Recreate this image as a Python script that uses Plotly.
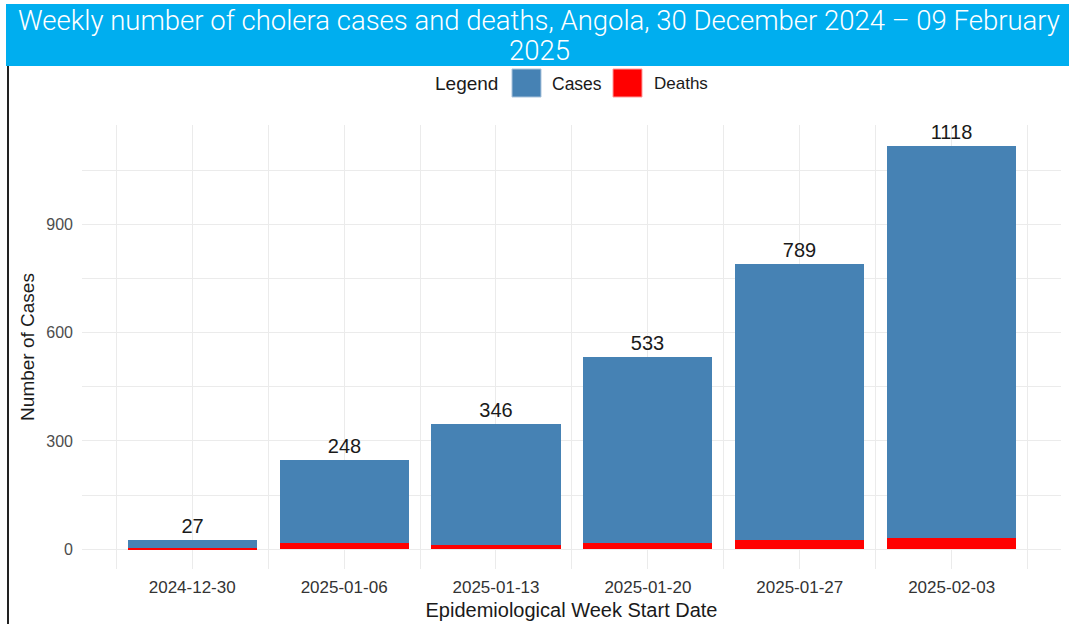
import plotly.graph_objects as go
import pandas as pd

# ---- data ----
week_start = ["2024-12-30", "2025-01-06", "2025-01-13", "2025-01-20", "2025-01-27", "2025-02-03"]
cases = [27, 248, 346, 533, 789, 1118]
deaths = [4, 17, 12, 18, 26, 31]
y_ticks = [0, 300, 600, 900]

title_line1 = "Weekly number of cholera cases and deaths, Angola, 30 December 2024 \u2013 09 February"
title_line2 = "2025"

DAY_MS = 86400000
week_ms = 7 * DAY_MS
bar_w = 0.85 * week_ms

d0 = pd.to_datetime(week_start[0])
d1 = pd.to_datetime(week_start[-1])
x_range = [d0 - pd.Timedelta(days=5.08), d1 + pd.Timedelta(days=5.04)]

BLUE = "#4682B4"
RED = "#FF0000"
GRID = "#EBEBEB"
SANS = "Liberation Sans, Arial, sans-serif"

fig = go.Figure()
fig.add_trace(go.Bar(
    x=week_start, y=cases, name="Cases", width=bar_w,
    marker=dict(color=BLUE, line=dict(width=0)),
    text=cases, textposition="outside",
    textfont=dict(family=SANS, size=20, color="#1a1a1a"),
    cliponaxis=False, showlegend=False,
))
fig.add_trace(go.Bar(
    x=week_start, y=deaths, name="Deaths", width=bar_w,
    marker=dict(color=RED, line=dict(width=0)),
    showlegend=False,
))

L, R, T, B = 82, 8, 125, 55
W, H = 1069, 624
pw, ph = W - L - R, H - T - B

def px(x):
    return (x - L) / pw

def py(y):
    return (H - B - y) / ph

shapes = [
    # title banner
    dict(type="rect", xref="paper", yref="paper", x0=px(6), x1=px(1069), y0=py(66), y1=py(4),
         fillcolor="#00AEEF", line=dict(width=0), layer="above"),
    # left dark rule
    dict(type="line", xref="paper", yref="paper", x0=px(8), x1=px(8), y0=py(66), y1=py(640),
         line=dict(color="#222222", width=2)),
    # legend keys
    dict(type="rect", xref="paper", yref="paper", x0=px(512), x1=px(541), y0=py(97), y1=py(69),
         fillcolor=BLUE, line=dict(color="#a9c3dc", width=1)),
    dict(type="rect", xref="paper", yref="paper", x0=px(613), x1=px(642), y0=py(97), y1=py(69),
         fillcolor=RED, line=dict(color="#ff9a9a", width=1)),
]

leg_font = dict(family=SANS, color="#1a1a1a")
title_font = dict(family="Roboto, Liberation Sans, sans-serif", size=27.5, color="white", weight=300)
annotations = [
    dict(text=title_line2, xref="paper", yref="paper", x=px(539), y=py(50), xanchor="center", yanchor="middle",
         showarrow=False, font=title_font),
    dict(text="Legend", xref="paper", yref="paper", x=px(433), y=py(84), xanchor="left", yanchor="middle",
         showarrow=False, font=dict(size=19, **leg_font)),
    dict(text="Cases", xref="paper", yref="paper", x=px(550), y=py(84), xanchor="left", yanchor="middle",
         showarrow=False, font=dict(size=17.5, **leg_font)),
    dict(text="Deaths", xref="paper", yref="paper", x=px(652), y=py(84), xanchor="left", yanchor="middle",
         showarrow=False, font=dict(size=17, **leg_font)),
]

fig.update_layout(
    width=W, height=H,
    margin=dict(l=L, r=R, t=T, b=B, autoexpand=False),
    paper_bgcolor="white", plot_bgcolor="white",
    barmode="overlay",
    bargap=0,
    showlegend=False,
    title=dict(text=title_line1, xref="container", yref="container",
               x=539 / W, y=1 - 20 / H, xanchor="center", yanchor="middle",
               font=title_font),
    shapes=shapes,
    annotations=annotations,
    xaxis=dict(
        type="date", range=x_range,
        tickmode="array", tickvals=week_start, ticktext=week_start,
        showgrid=True, gridcolor=GRID, gridwidth=1.2,
        minor=dict(showgrid=True, gridcolor=GRID, gridwidth=1.2,
                   tick0=(d0 + pd.Timedelta(days=3.5)).strftime("%Y-%m-%d %H:%M"), dtick=week_ms),
        zeroline=False, showline=False, ticks="",
        tickfont=dict(family=SANS, size=17, color="#333333"),
        ticklabelstandoff=6,
        title=dict(text="Epidemiological Week Start Date", standoff=6,
                   font=dict(family=SANS, size=20, color="#1a1a1a")),
    ),
    yaxis=dict(
        range=[-54.6, 1175],
        tickmode="array", tickvals=y_ticks,
        showgrid=True, gridcolor=GRID, gridwidth=1.2,
        minor=dict(showgrid=True, gridcolor=GRID, gridwidth=1.2, tick0=0, dtick=150),
        zeroline=False, showline=False, ticks="",
        tickfont=dict(family=SANS, size=16, color="#4d4d4d"),
        ticklabelstandoff=8,
        title=dict(text="Number of Cases", standoff=6,
                   font=dict(family=SANS, size=19, color="#1a1a1a")),
    ),
)

fig.write_html("out.html", config={"displayModeBar": False},
               post_script="document.body.style.margin='0';document.body.style.overflow='hidden';")
